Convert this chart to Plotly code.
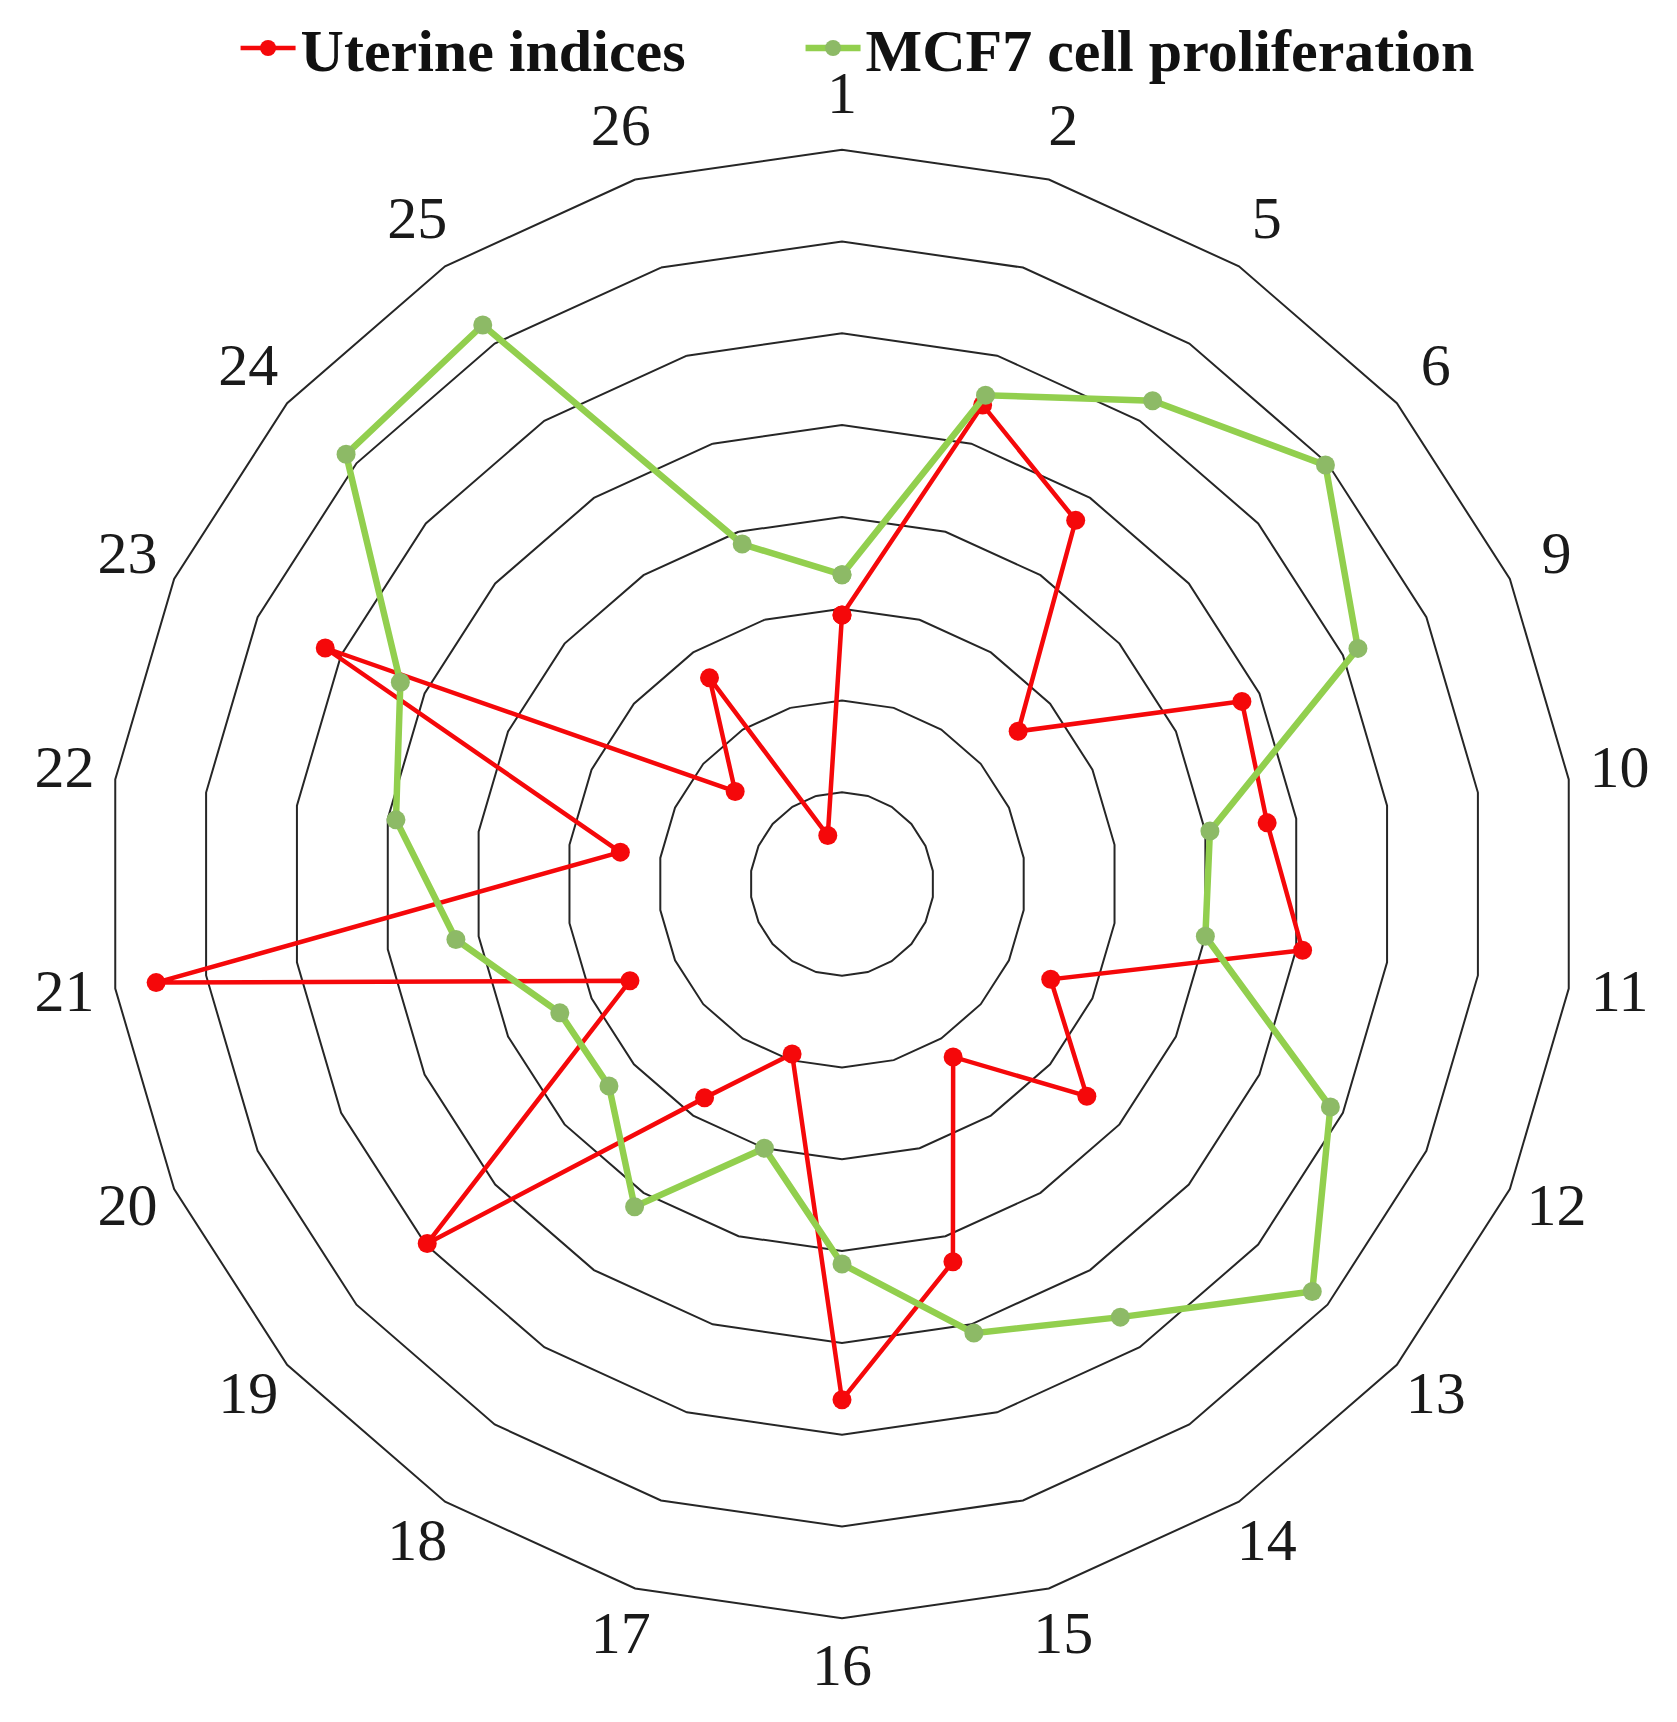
import plotly.graph_objects as go

# spoke labels, clockwise from the top
categories = ["1", "2", "5", "6", "9", "10", "11", "12", "13", "14", "15",
              "16", "17", "18", "19", "20", "21", "22", "23", "24", "25", "26"]

# values in ring units (rings at 1..8)
uterine = [2.93, 5.44, 4.71, 2.54, 4.79, 4.68, 5.07, 2.50, 3.53, 2.24, 4.29,
           5.62, 1.93, 2.77, 5.98, 2.54, 7.55, 2.44, 6.19, 1.54, 2.67, 0.55]
mcf7 = [3.37, 5.55, 6.26, 6.97, 6.18, 4.05, 4.00, 5.85, 6.78, 5.61, 5.10,
        4.14, 3.00, 4.18, 3.36, 3.38, 4.25, 4.91, 5.29, 7.15, 7.24, 3.86]
rings = [1, 2, 3, 4, 5, 6, 7, 8]

RED = "#F5080A"
GREEN = "#92CF4E"
SERIF = "Liberation Serif, Times New Roman, serif"

# radial range runs past the outer ring so the rim labels fit inside it
R_MAX = 9
UNIT_PX = 91.75
CX, CY = 834, 876          # nudged so the drawn centre lands at (843, 885)
HALF = R_MAX * UNIT_PX
LEFT, RIGHT = CX - HALF, 1677 - (CX + HALF)
TOP, BOTTOM = CY - HALF, 1722 - (CY + HALF)
PLOT_H = 1722 - TOP - BOTTOM
LABEL_R = 8.56


def closed(vals):
    return list(vals) + [vals[0]]


def legend_box(x):
    # one legend per series so the gap between the two entries can be set
    return dict(
        orientation="h",
        xref="container", x=x, xanchor="left",
        yref="container", y=1 - 40 / 1722, yanchor="middle",
        font=dict(family=SERIF, size=60, color="#111111", weight="bold"),
        itemwidth=55, bgcolor="rgba(0,0,0,0)",
    )


fig = go.Figure()

fig.add_trace(go.Scatterpolar(
    r=closed(uterine), theta=closed(categories),
    mode="lines+markers", name="Uterine indices",
    line=dict(color=RED, width=4.5),
    marker=dict(color=RED, size=19),
    legend="legend",
))

fig.add_trace(go.Scatterpolar(
    r=closed(mcf7), theta=closed(categories),
    mode="lines+markers", name="MCF7 cell proliferation",
    line=dict(color=GREEN, width=6.5),
    marker=dict(color="#8DBA66", size=19),
    legend="legend2",
))

# category labels around the rim
fig.add_trace(go.Scatterpolar(
    r=[LABEL_R] * len(categories), theta=categories,
    mode="text", text=categories,
    textfont=dict(family=SERIF, size=60, color="#1a1a1a"),
    cliponaxis=False, showlegend=False, hoverinfo="skip",
))

fig.update_layout(
    width=1677, height=1722,
    paper_bgcolor="white",
    plot_bgcolor="white",
    margin=dict(l=LEFT, r=RIGHT, t=TOP, b=BOTTOM, autoexpand=False),
    showlegend=True,
    legend=legend_box(0.1357),
    legend2=legend_box(0.4726),
    polar=dict(
        bgcolor="white",
        gridshape="linear",
        radialaxis=dict(
            range=[0, R_MAX], tickvals=rings, showticklabels=False, ticks="",
            showline=False, gridcolor="#262626", gridwidth=2,
        ),
        angularaxis=dict(
            rotation=90, direction="clockwise",
            showgrid=False, showline=False,
            ticks="", showticklabels=False,
        ),
    ),
)

fig.write_html("out.html")
